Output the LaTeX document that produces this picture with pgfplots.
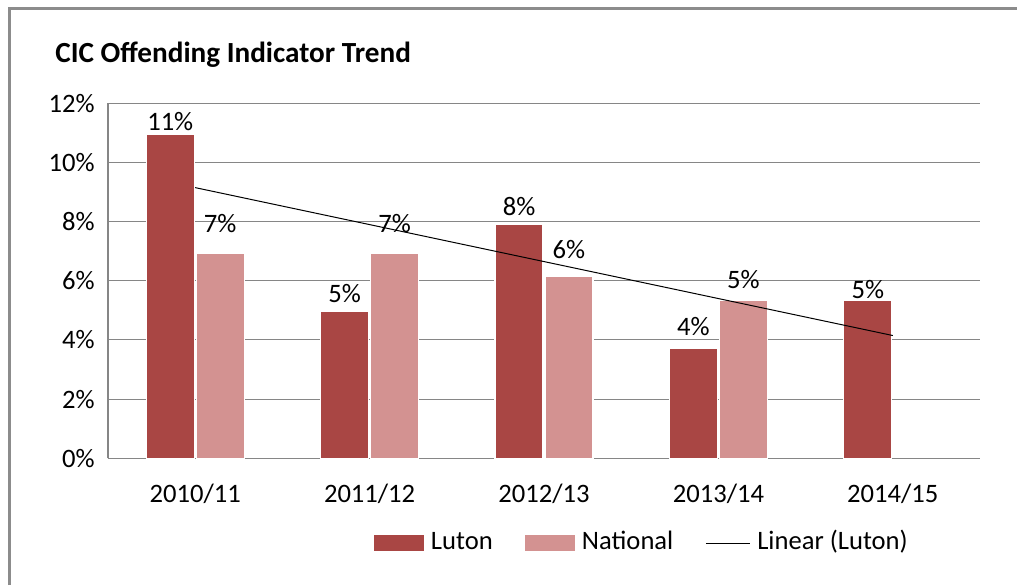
\documentclass[border=0pt]{standalone}
\usepackage{fontspec}
\setmainfont{Carlito}
\usepackage{pgfplots}
\pgfplotsset{compat=1.18}
\definecolor{lutonred}{RGB}{169,70,68}
\definecolor{natpink}{RGB}{211,146,145}
\definecolor{gridgray}{RGB}{134,134,134}
\definecolor{framegray}{RGB}{140,140,140}
\begin{document}
\begin{tikzpicture}
\path[use as bounding box] (0pt,0pt) rectangle (508.5pt,292.5pt);
\draw[framegray, line width=1.2pt] (4.75pt,0pt) -- (4.75pt,288.25pt) -- (508.5pt,288.25pt);
\node[anchor=base west, inner sep=0pt, font=\fontsize{14.6}{17}\selectfont\bfseries] at (27.5pt,261pt) {CIC Offending Indicator Trend};
\begin{axis}[
  at={(54pt,63.35pt)}, anchor=south west,
  scale only axis, width=436pt, height=177.5pt,
  xmin=-0.5, xmax=4.5, ymin=0, ymax=12,
  xtick={0,1,2,3,4},
  xticklabels={2010/11,2011/12,2012/13,2013/14,2014/15},
  ytick={0,2,4,6,8,10,12},
  yticklabel={\pgfmathprintnumber{\tick}\%},
  /pgf/number format/assume math mode=true,
  axis x line*=bottom, axis y line*=left,
  axis line style={draw=gridgray, line width=0.6pt, -},
  major tick length=0pt,
  ymajorgrids, grid style={draw=gridgray, line width=0.5pt},
  ticklabel style={font=\fontsize{13.3}{16}\selectfont},
  xticklabel style={anchor=base, inner sep=0pt, yshift=-21.9pt},
  yticklabel style={anchor=east, inner sep=0pt, xshift=-6.5pt},
  clip=false,
  legend style={at={(0.611,-0.239)}, anchor=center, draw=none, fill=none,
    legend columns=3, font=\fontsize{13.3}{16}\selectfont,
    nodes={inner sep=0pt, text height=9.2pt, text depth=2.6pt},
    /tikz/every odd column/.append style={column sep=3.5pt},
    /tikz/every even column/.append style={column sep=16pt}},
]
\addplot[ybar, bar width=24pt, bar shift=-12.5pt, fill=lutonred, draw=white, line width=0.6pt,
  legend image code/.code={\fill[lutonred] (0pt,-3.75pt) rectangle (24.5pt,3.75pt);}]
  coordinates {(0,10.94) (1,4.95) (2,7.92) (3,3.73) (4,5.33)};
\addlegendentry{Luton}
\addplot[ybar, bar width=24pt, bar shift=12.5pt, fill=natpink, draw=white, line width=0.6pt,
  legend image code/.code={\fill[natpink] (0pt,-3.75pt) rectangle (24.5pt,3.75pt);}]
  coordinates {(0,6.91) (1,6.91) (2,6.16) (3,5.35)};
\addlegendentry{National}
\addplot[black, line width=0.5pt, mark=none,
  legend image code/.code={\draw[black, line width=0.5pt] (0pt,0pt) -- (22pt,0pt);}]
  coordinates {(0,9.15) (4,4.15)};
\addlegendentry{Linear (Luton)}
% data labels, placed as in the reference
\addplot[draw=none, mark=none, forget plot, point meta=explicit symbolic,
  nodes near coords={\pgfplotspointmeta},
  nodes near coords style={anchor=center, inner sep=0pt, text=black, font=\fontsize{13.3}{16}\selectfont}]
  coordinates {
    (-0.143,11.38) [11\%]
    (0.143,7.94) [7\%]
    (0.857,5.57) [5\%]
    (1.143,7.94) [7\%]
    (1.857,8.52) [8\%]
    (2.143,7.06) [6\%]
    (2.857,4.46) [4\%]
    (3.143,6.03) [5\%]
    (3.857,5.69) [5\%]
  };
\end{axis}
\end{tikzpicture}
\end{document}
